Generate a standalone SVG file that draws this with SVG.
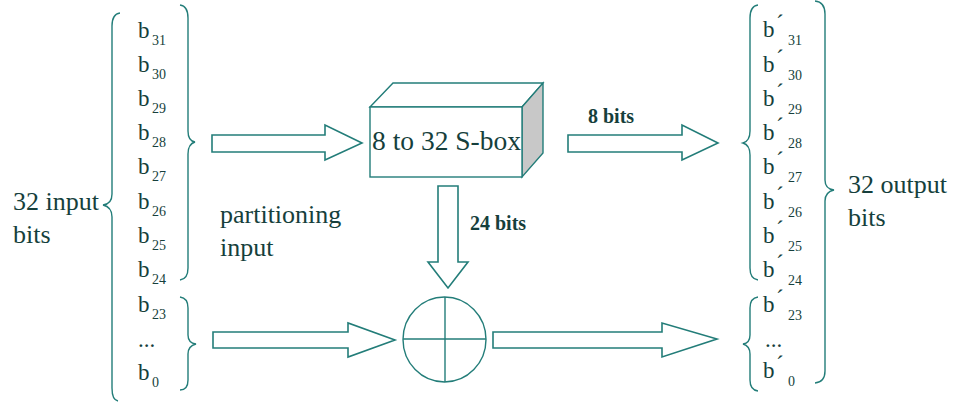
<svg xmlns="http://www.w3.org/2000/svg" width="959" height="405" viewBox="0 0 959 405">
<style>
.ln{fill:none;stroke:#237d79;stroke-width:1.4;stroke-linejoin:miter}
.ar{fill:#ffffff;stroke:#237d79;stroke-width:1.6}
</style>
<rect width="959" height="405" fill="#ffffff"/>
<g id="connectors">
  <path class="ar" d="M212,135 L325,135 L325,125 L362,143 L325,160 L325,152 L212,152 Z"/>
  <path class="ar" d="M568,135 L682,135 L682,125 L718,143 L682,160 L682,152 L568,152 Z"/>
  <path class="ar" d="M438,186 L458,186 L458,262 L468,262 L448,288 L428,262 L438,262 Z"/>
  <path class="ar" d="M213,332 L348,332 L348,323 L395,340 L348,357 L348,348 L213,348 Z"/>
  <path class="ar" d="M493,332 L662,332 L662,323 L717,339 L662,357 L662,348 L493,348 Z"/>
</g>
<g font-family="Liberation Serif, Tinos, DejaVu Serif, serif" fill="#163f3c" font-weight="400">
<g id="input-brace">
  <path class="ln" d="M120,13 Q112,14 112,26 L112,194 Q112,204 103,205 Q112,207 112,217 L112,388 Q112,400 118,401"/>
  <text font-size="26" x="13" y="210">32 input</text>
  <text font-size="26" x="13" y="243">bits</text>
</g>
<g id="input-bits" font-size="23">
  <text x="138" y="38">b<tspan x="152" y="45" font-size="14">31</tspan></text>
  <text x="138" y="72">b<tspan x="152" y="79" font-size="14">30</tspan></text>
  <text x="138" y="106">b<tspan x="152" y="113" font-size="14">29</tspan></text>
  <text x="138" y="140">b<tspan x="152" y="147" font-size="14">28</tspan></text>
  <text x="138" y="174">b<tspan x="152" y="181" font-size="14">27</tspan></text>
  <text x="138" y="209">b<tspan x="152" y="216" font-size="14">26</tspan></text>
  <text x="138" y="243">b<tspan x="152" y="250" font-size="14">25</tspan></text>
  <text x="138" y="277">b<tspan x="152" y="284" font-size="14">24</tspan></text>
  <text x="138" y="312">b<tspan x="152" y="319" font-size="14">23</tspan></text>
  <text x="138" y="347">...</text>
  <text x="138" y="380">b<tspan x="152" y="387" font-size="14">0</tspan></text>
  <path class="ln" d="M180,5 Q188,6 188,18 L188,131 Q188,141 195,142 Q188,144 188,154 L188,268 Q188,279 180,280"/>
  <path class="ln" d="M180,297 Q188,298 188,308 L188,335 Q188,343 196,344 Q188,346 188,354 L188,380 Q188,390 180,390"/>
</g>
<g id="partition-label" font-size="26">
  <text x="220" y="223">partitioning</text>
  <text x="220" y="256">input</text>
</g>
<g id="sbox">
  <path d="M370,107 L393,83 L543,83 L522,107 Z" fill="#ffffff" stroke="#237d79" stroke-width="1.4"/>
  <path d="M522,107 L543,83 L543,153 L522,177 Z" fill="#c8c8c8" stroke="#237d79" stroke-width="1.4"/>
  <rect x="370" y="107" width="152" height="70" fill="#ffffff" stroke="#237d79" stroke-width="1.4"/>
  <text x="372" y="150" font-size="27.5">8 to 32 S-box</text>
</g>
<g id="label-8bits"><text x="588" y="123" font-size="20" font-weight="bold">8 bits</text></g>
<g id="label-24bits"><text x="470" y="230" font-size="20" font-weight="bold">24 bits</text></g>
<g id="xor">
  <ellipse class="ln" cx="444.5" cy="339.5" rx="41.5" ry="42.5" fill="#ffffff"/>
  <line class="ln" x1="403" y1="339" x2="486" y2="339"/>
  <line class="ln" x1="445" y1="297" x2="445" y2="382"/>
</g>
<g id="output-bits" font-size="23">
  <path class="ln" d="M758,5 Q750,6 750,18 L750,131 Q750,141 743,143 Q750,145 750,155 L750,268 Q750,279 758,280"/>
  <path class="ln" d="M758,297 Q750,298 750,308 L750,335 Q750,343 743,344 Q750,346 750,354 L750,380 Q750,390 758,391"/>
  <text x="763" y="37">b<tspan x="776" y="31">´</tspan><tspan x="788" y="45" font-size="14">31</tspan></text>
  <text x="763" y="72">b<tspan x="776" y="66">´</tspan><tspan x="788" y="80" font-size="14">30</tspan></text>
  <text x="763" y="106">b<tspan x="776" y="100">´</tspan><tspan x="788" y="114" font-size="14">29</tspan></text>
  <text x="763" y="140">b<tspan x="776" y="134">´</tspan><tspan x="788" y="148" font-size="14">28</tspan></text>
  <text x="763" y="174">b<tspan x="776" y="168">´</tspan><tspan x="788" y="182" font-size="14">27</tspan></text>
  <text x="763" y="209">b<tspan x="776" y="203">´</tspan><tspan x="788" y="217" font-size="14">26</tspan></text>
  <text x="763" y="243">b<tspan x="776" y="237">´</tspan><tspan x="788" y="251" font-size="14">25</tspan></text>
  <text x="763" y="277">b<tspan x="776" y="271">´</tspan><tspan x="788" y="285" font-size="14">24</tspan></text>
  <text x="763" y="312">b<tspan x="776" y="306">´</tspan><tspan x="788" y="320" font-size="14">23</tspan></text>
  <text x="765" y="347">...</text>
  <text x="763" y="378">b<tspan x="776" y="372">´</tspan><tspan x="788" y="386" font-size="14">0</tspan></text>
</g>
<g id="output-brace">
  <path class="ln" d="M815,1 Q825,2 825,14 L825,180 Q825,189 834,190 Q825,192 825,201 L825,371 Q825,382 815,383"/>
  <text font-size="26" x="848" y="193">32 output</text>
  <text font-size="26" x="848" y="226">bits</text>
</g>
</g>
</svg>
